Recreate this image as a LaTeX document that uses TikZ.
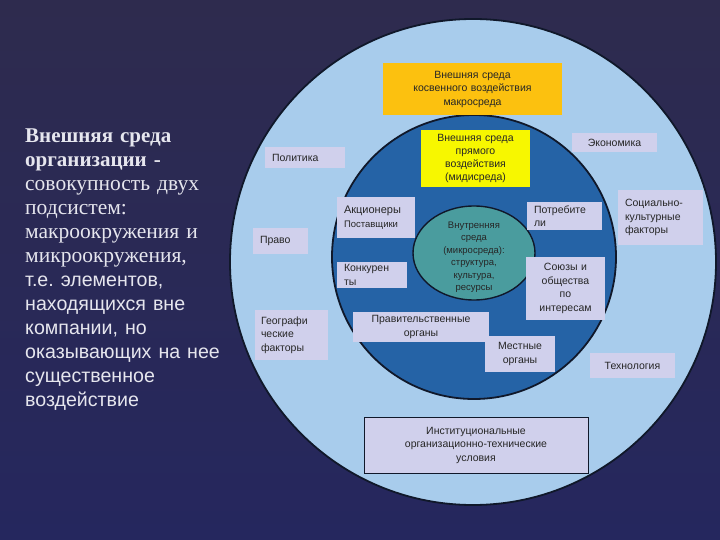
\documentclass[tikz,border=0pt]{standalone}
\usepackage{fontspec}
\setmainfont{Liberation Serif}
\setsansfont{Liberation Sans}
\usetikzlibrary{positioning}
\frenchspacing
\definecolor{bgtop}{HTML}{2E2B4E}
\definecolor{bgbot}{HTML}{25275E}
\definecolor{macroblue}{HTML}{A8CCEC}
\definecolor{mesoblue}{HTML}{2563A6}
\definecolor{microteal}{HTML}{4A9C9E}
\definecolor{labelfill}{HTML}{D0D0EC}
\definecolor{macroyellow}{HTML}{FCC10F}
\definecolor{midyellow}{HTML}{F7F700}
\definecolor{ringline}{HTML}{10182A}
\definecolor{slidetext}{HTML}{E6E6EE}

\begin{document}
\begin{tikzpicture}[x=1pt,y=-1pt]
\tikzset{font=\sffamily\fontsize{10.5}{13.5}\selectfont}
\tikzset{ring/.style={draw=ringline, line width=1.8pt}}
\tikzset{factor/.style={fill=labelfill, inner xsep=7pt, inner ysep=1pt, text=black!85, align=left}}
\tikzset{factorc/.style={factor, align=center}}
\useasboundingbox (0,0) rectangle (720,540);
\shade[top color=bgtop, bottom color=bgbot] (0,0) rectangle (720,540);
% rings
\filldraw[ring, fill=macroblue] (473,262) circle (243);
\filldraw[ring, fill=mesoblue] (474,257) circle (142);
\filldraw[draw=ringline, line width=1.4pt, fill=microteal] (474,253) ellipse (61 and 47);
% left text
\node[anchor=north west, inner sep=0pt, text width=215pt, align=left, text=slidetext,
  font=\fontsize{21}{24}\selectfont] (defn) at (25,129)
  {\rmfamily\bfseries Внешняя среда\\ организации -\\ \mdseries\fontsize{21.5}{24}\selectfont совокупность двух\\ подсистем:\\ макроокружения и\\ микроокружения,\\
   \sffamily\fontsize{19.6}{24}\selectfont т.е. элементов,\\ находящихся вне\\ компании, но\\ оказывающих на нее\\ существенное\\ воздействие};
% centre
\node[text=black!85, align=center, font=\sffamily\fontsize{9.5}{12.5}\selectfont] (micro) at (474,257)
  {Внутренняя\\ среда\\ (микросреда):\\ структура,\\ культура,\\ ресурсы};
\node[factorc, fill=macroyellow, minimum width=179pt, minimum height=52pt, text width=165pt] (macro) at (472.5,89)
  {Внешняя среда\\ косвенного воздействия\\ макросреда};
\node[factorc, fill=midyellow, minimum width=105pt, minimum height=57pt, text width=95pt,
  font=\sffamily\fontsize{10.5}{12.7}\selectfont] (meso) at (475.5,158.5)
  {Внешняя среда\\ прямого\\ воздействия\\ (мидисреда)};
% macro factors
\node[factor, minimum width=80pt, minimum height=21pt, text width=66pt] (politika) at (305,157.5) {Политика};
\node[factorc, minimum width=85pt, minimum height=19pt, text width=71pt] (ekonomika) at (614.5,142.5) {Экономика};
\node[factor, minimum width=85pt, minimum height=55pt, text width=71pt] (social) at (660.5,217.5)
  {Социально-\\ культурные\\ факторы};
\node[factor, minimum width=55pt, minimum height=26pt, text width=41pt] (pravo) at (280.5,241) {Право};
\node[factor, inner xsep=6pt, minimum width=73pt, minimum height=50pt, text width=61pt] (geogr) at (291.5,335)
  {Географи\\ ческие\\ факторы};
\node[factorc, minimum width=85pt, minimum height=25pt, text width=71pt] (tech) at (632.5,365.5) {Технология};
\node[factorc, draw=ringline, line width=0.8pt, minimum width=224pt, minimum height=56pt, text width=210pt] (instit) at (476,445)
  {Институциональные\\ организационно-технические\\ условия};
% meso factors
\node[factor, minimum width=78pt, minimum height=41pt, text width=64pt] (akcion) at (376,217.5)
  {{\fontsize{11}{13.5}\selectfont Акционеры}\\ {\fontsize{9.5}{12}\selectfont Поставщики}};
\node[factor, minimum width=75pt, minimum height=28pt, text width=61pt] (potreb) at (564.5,216) {Потребите\\ ли};
\node[factor, minimum width=70pt, minimum height=26pt, text width=56pt] (konkur) at (372,275) {Конкурен\\ ты};
\node[factorc, minimum width=75pt, minimum height=63pt, text width=65pt] (soyuz) at (565.5,288.5)
  {Союзы и\\ общества\\ по\\ интересам};
\node[factorc, minimum width=132pt, minimum height=30pt, text width=122pt] (pravit) at (421,327)
  {Правительственные\\ органы};
\node[factorc, minimum width=66pt, minimum height=36pt, text width=56pt] (mestn) at (520,354)
  {Местные\\ органы};
\end{tikzpicture}
\end{document}
